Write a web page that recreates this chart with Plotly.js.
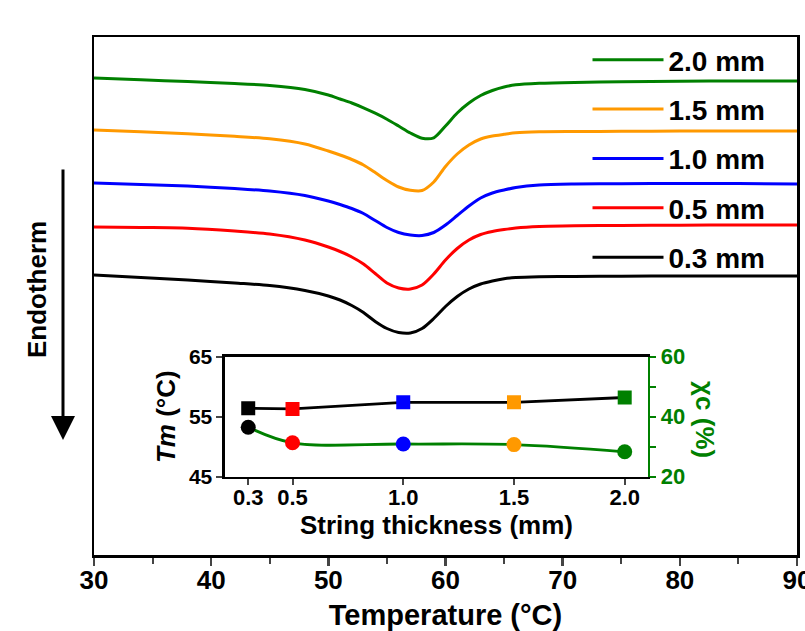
<!DOCTYPE html>
<html>
<head>
<meta charset="utf-8">
<script src="https://cdn.plot.ly/plotly-3.0.1.min.js"></script>
<style>
html,body{margin:0;padding:0;background:#fff;}
#chart{width:805px;height:631px;}
</style>
</head>
<body>
<div id="chart"></div>
<script>
// ---- DSC curves (heat flow, arbitrary units) ----
const temperature = [30, 34, 38, 42, 45, 48, 50, 51, 52, 53, 54, 55, 56, 57, 58, 59, 60, 61, 62, 63, 64, 65, 66, 68, 71, 75, 80, 85, 90];
const hf03 = [28.00, 27.75, 27.50, 27.20, 26.95, 26.45, 25.90, 25.50, 24.95, 24.25, 23.35, 22.65, 22.25, 22.20, 22.65, 23.65, 24.85, 25.85, 26.60, 27.10, 27.40, 27.62, 27.74, 27.82, 27.85, 27.88, 27.90, 27.90, 27.90];
const hf05 = [32.80, 32.75, 32.68, 32.40, 32.10, 31.50, 30.80, 30.35, 29.80, 29.10, 28.15, 27.20, 26.70, 26.60, 27.00, 28.10, 29.50, 30.65, 31.50, 32.05, 32.35, 32.55, 32.70, 32.85, 32.92, 32.95, 32.98, 33.00, 33.00];
const hf10 = [37.20, 37.06, 36.90, 36.65, 36.40, 35.95, 35.40, 35.05, 34.65, 34.15, 33.45, 32.75, 32.25, 32.00, 31.95, 32.25, 33.00, 33.95, 34.90, 35.70, 36.20, 36.50, 36.75, 37.00, 37.10, 37.13, 37.15, 37.15, 37.10];
const hf15 = [42.50, 42.32, 42.12, 41.87, 41.62, 41.10, 40.40, 40.00, 39.55, 39.00, 38.25, 37.45, 36.80, 36.48, 36.45, 37.30, 38.85, 40.10, 41.00, 41.60, 41.90, 42.07, 42.22, 42.32, 42.35, 42.37, 42.40, 42.40, 42.40];
const hf20 = [47.70, 47.52, 47.34, 47.15, 46.95, 46.55, 46.00, 45.60, 45.20, 44.72, 44.18, 43.58, 42.90, 42.20, 41.68, 41.72, 42.90, 44.20, 45.20, 45.95, 46.45, 46.80, 47.02, 47.17, 47.26, 47.32, 47.37, 47.40, 47.40];
const seriesNames = ['0.3 mm', '0.5 mm', '1.0 mm', '1.5 mm', '2.0 mm'];
const seriesColors = ['#000000', '#ff0000', '#0000ff', '#ff9900', '#008000'];

// ---- inset data ----
const thickness = [0.3, 0.5, 1.0, 1.5, 2.0];
const thicknessLabels = ['0.3', '0.5', '1.0', '1.5', '2.0'];
const tm = [56.4, 56.3, 57.4, 57.4, 58.2];
const xc = [36.5, 31.3, 30.9, 30.7, 28.3];
const mainTicks = [30, 40, 50, 60, 70, 80, 90];

const FONT = 'Liberation Sans, Arial, Helvetica, sans-serif';
const hfSeries = [hf03, hf05, hf10, hf15, hf20];

const traces = [];
for (let i = hfSeries.length - 1; i >= 0; i--) {
  traces.push({
    type: 'scatter', mode: 'lines',
    x: temperature, y: hfSeries[i],
    name: seriesNames[i],
    legendgroup: 'g' + i,
    line: {color: seriesColors[i], width: 3, shape: 'spline', smoothing: 0.8},
    xaxis: 'x', yaxis: 'y', hoverinfo: 'skip'
  });
}

traces.push({
  type: 'scatter', mode: 'lines+markers',
  x: thickness, y: tm, showlegend: false,
  line: {color: '#000000', width: 2.8},
  marker: {symbol: 'square', size: 14, color: seriesColors},
  xaxis: 'x2', yaxis: 'y2', hoverinfo: 'skip'
});
traces.push({
  type: 'scatter', mode: 'lines+markers',
  x: thickness, y: xc, showlegend: false,
  line: {color: '#008000', width: 2.8, shape: 'spline', smoothing: 1},
  marker: {symbol: 'circle', size: 15, color: seriesColors},
  xaxis: 'x2', yaxis: 'y3', hoverinfo: 'skip'
});

const layout = {
  width: 805, height: 631,
  margin: {l: 94, r: 8, t: 37, b: 76},
  paper_bgcolor: '#ffffff', plot_bgcolor: 'rgba(0,0,0,0)',
  font: {family: FONT, size: 24, color: '#000000', weight: 'bold'},
  showlegend: true,
  legend: {
    x: 0.702, xanchor: 'left', y: 1.004, yanchor: 'top',
    bgcolor: 'rgba(0,0,0,0)', borderwidth: 0,
    font: {family: FONT, size: 28, color: '#000000', weight: 'bold'},
    traceorder: 'grouped', tracegroupgap: 10,
    itemwidth: 71
  },
  xaxis: {
    domain: [0, 1], range: [30, 90],
    tickvals: mainTicks, ticks: 'outside', ticklen: 8, tickwidth: 2.5,
    minor: {dtick: 5, ticks: 'outside', ticklen: 6, tickwidth: 2},
    ticklabelstandoff: -8, ticklabeloverflow: 'allow',
    showline: true, linewidth: 2.5, linecolor: '#000', mirror: true,
    showgrid: false, zeroline: false,
    tickfont: {family: FONT, size: 26, weight: 'bold'},
    title: {text: 'Temperature (°C)', font: {family: FONT, size: 29, weight: 'bold'}, standoff: 12}
  },
  yaxis: {
    domain: [0, 1], range: [0, 51.8],
    showticklabels: false, ticks: '',
    showline: true, linewidth: 2.5, linecolor: '#000', mirror: true,
    showgrid: false, zeroline: false
  },
  xaxis2: {
    domain: [0.1863, 0.788], range: [0.195, 2.105], anchor: 'y2',
    tickvals: thickness, ticktext: thicknessLabels,
    ticks: 'outside', ticklen: 6, tickwidth: 2, ticklabelstandoff: -7,
    showline: true, linewidth: 2.5, linecolor: '#000', mirror: true,
    showgrid: false, zeroline: false,
    tickfont: {family: FONT, size: 22, weight: 'bold'},
    title: {text: 'String thickness (mm)', font: {family: FONT, size: 26, weight: 'bold'}, standoff: 6}
  },
  yaxis2: {
    domain: [0.1512, 0.3828], range: [45, 65], anchor: 'x2',
    tickvals: [45, 55, 65], ticks: 'outside', ticklen: 6, tickwidth: 2,
    showline: true, linewidth: 2.5, linecolor: '#000',
    showgrid: false, zeroline: false,
    tickfont: {family: FONT, size: 21, weight: 'bold'},
    title: {text: '<i>Tm</i> (°C)', font: {family: FONT, size: 26, weight: 'bold'}, standoff: 6}
  },
  yaxis3: {
    domain: [0.1512, 0.3828], range: [20, 60], anchor: 'x2', overlaying: 'y2', side: 'right',
    tickvals: [20, 40, 60], ticks: 'outside', ticklen: 6, tickwidth: 2, tickcolor: '#008000',
    minor: {dtick: 10, ticks: 'outside', ticklen: 6, tickwidth: 2, tickcolor: '#008000'},
    showline: true, linewidth: 2.5, linecolor: '#008000',
    showgrid: false, zeroline: false,
    tickfont: {family: FONT, size: 22, color: '#008000', weight: 'bold'}
  },
  annotations: [
    {xref: 'paper', yref: 'paper', x: 0.869, y: 0.2606, xanchor: 'center', yanchor: 'middle',
     text: 'χc (%)', showarrow: false,
     textangle: 90, font: {family: FONT, size: 26, color: '#008000', weight: 'bold'}},
    {xref: 'paper', yref: 'paper', x: -0.081, y: 0.5116, xanchor: 'center', yanchor: 'middle',
     text: 'Endotherm', showarrow: false,
     textangle: -90, font: {family: FONT, size: 26, color: '#000', weight: 'bold'}},
    {xref: 'paper', yref: 'paper', x: -0.0441, y: 0.222, text: '', showarrow: true,
     ax: 0, ay: -272, arrowhead: 2, arrowsize: 1.6, arrowwidth: 3, arrowcolor: '#000', standoff: 0}
  ]
};

Plotly.newPlot('chart', traces, layout, {displayModeBar: false, staticPlot: true});
</script>
</body>
</html>
